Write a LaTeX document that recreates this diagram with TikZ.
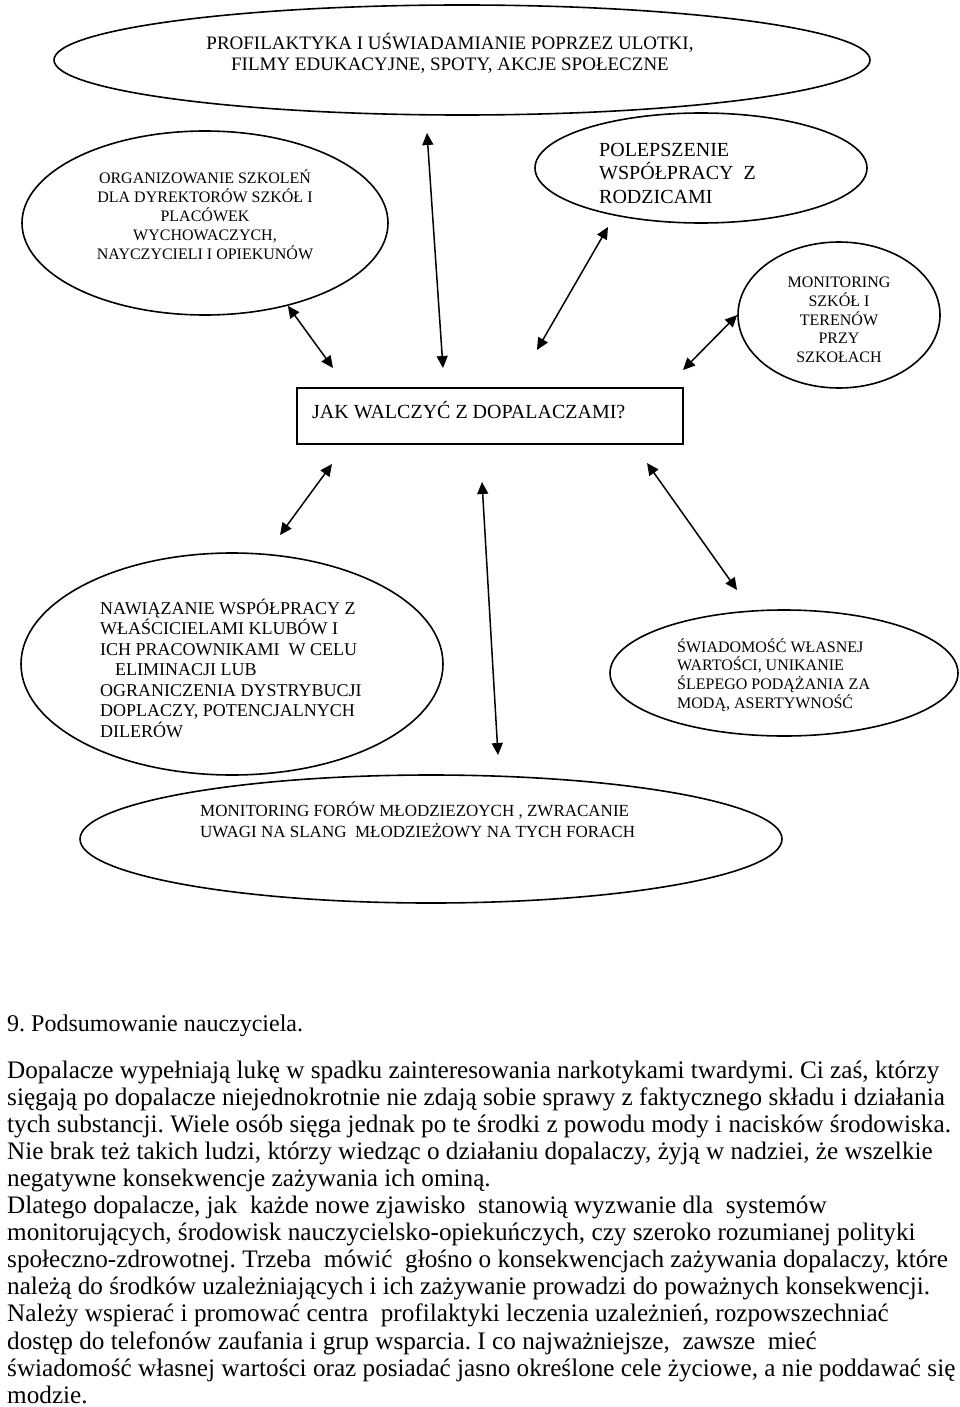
\documentclass[tikz,border=0pt]{standalone}
\usepackage{fontspec}
\setmainfont{Liberation Serif}
\usetikzlibrary{arrows.meta, shapes.geometric}
\frenchspacing

\tikzset{
  owal/.style={ellipse, draw, line width=1.6pt, inner sep=0pt},
  ramka/.style={rectangle, draw, line width=1.6pt, inner sep=0pt},
  napis/.style={align=left, inner sep=0pt, anchor=west},
  srodek/.style={align=center, inner sep=0pt},
  strzalka/.style={line width=1.5pt, {Triangle[length=12pt,width=11pt]}-{Triangle[length=12pt,width=11pt]}},
}

\begin{document}
\begin{tikzpicture}[x=1pt, y=-1pt]
  \useasboundingbox (0,0) rectangle (960,1407);

  % owale i ramka
  \node[owal, minimum width=816, minimum height=110] (ulotki) at (462,60) {};
  \node[owal, minimum width=366, minimum height=184] (szkolenia) at (205,223) {};
  \node[owal, minimum width=332, minimum height=110] (rodzice) at (701,168) {};
  \node[owal, minimum width=202, minimum height=146] (teren) at (839,315) {};
  \node[ramka, minimum width=386, minimum height=56] (pytanie) at (490,416) {};
  \node[owal, minimum width=422, minimum height=222] (kluby) at (232,664) {};
  \node[owal, minimum width=348, minimum height=126] (moda) at (784,673) {};
  \node[owal, minimum width=702, minimum height=128] (fora) at (431,839) {};

  % napisy
  \node[srodek, font=\fontsize{19}{21}\selectfont] (ulotki-t) at (450,53)
    {PROFILAKTYKA I UŚWIADAMIANIE POPRZEZ ULOTKI,\\FILMY EDUKACYJNE, SPOTY, AKCJE SPOŁECZNE};
  \node[srodek, font=\fontsize{16}{19}\selectfont] (szkolenia-t) at (205,215)
    {ORGANIZOWANIE SZKOLEŃ\\DLA DYREKTORÓW SZKÓŁ I\\PLACÓWEK\\WYCHOWACZYCH,\\NAYCZYCIELI I OPIEKUNÓW};
  \node[napis, font=\fontsize{20}{23.5}\selectfont] (rodzice-t) at (599,173)
    {POLEPSZENIE\\WSPÓŁPRACY\ \ Z\\RODZICAMI};
  \node[srodek, font=\fontsize{16}{18.75}\selectfont] (teren-t) at (839,320)
    {MONITORING\\SZKÓŁ I\\TERENÓW\\PRZY\\SZKOŁACH};
  \node[napis, font=\fontsize{20}{23}\selectfont] (pytanie-t) at (312,410)
    {JAK WALCZYĆ Z DOPALACZAMI?};
  \node[napis, font=\fontsize{18}{20.5}\selectfont] (kluby-t) at (100,668)
    {NAWIĄZANIE WSPÓŁPRACY Z\\WŁAŚCICIELAMI KLUBÓW I\\ICH PRACOWNIKAMI\ \ W CELU\\\hspace*{15pt}ELIMINACJI LUB\\OGRANICZENIA DYSTRYBUCJI\\DOPLACZY, POTENCJALNYCH\\DILERÓW};
  \node[napis, font=\fontsize{16}{18.7}\selectfont] (moda-t) at (677,675)
    {ŚWIADOMOŚĆ WŁASNEJ\\WARTOŚCI, UNIKANIE\\ŚLEPEGO PODĄŻANIA ZA\\MODĄ, ASERTYWNOŚĆ};
  \node[napis, font=\fontsize{17}{21}\selectfont] (fora-t) at (200,820)
    {MONITORING FORÓW MŁODZIEZOYCH , ZWRACANIE\\UWAGI NA SLANG\ \ MŁODZIEŻOWY NA TYCH FORACH};

  % strzalki
  \coordinate (k1) at (333,368);
  \coordinate (k2a) at (427,133);
  \coordinate (k2b) at (443,368);
  \coordinate (k3a) at (608,227);
  \coordinate (k3b) at (537,350);
  \coordinate (k4) at (683,370);
  \coordinate (k5a) at (332,464);
  \coordinate (k5b) at (280,535);
  \coordinate (k6a) at (482,482);
  \coordinate (k6b) at (498,755);
  \coordinate (k7a) at (647,463);
  \coordinate (k7b) at (737,590);
  \draw[strzalka] (szkolenia.-45) -- (k1);
  \draw[strzalka] (k2a) -- (k2b);
  \draw[strzalka] (k3a) -- (k3b);
  \draw[strzalka] (teren.west) -- (k4);
  \draw[strzalka] (k5a) -- (k5b);
  \draw[strzalka] (k6a) -- (k6b);
  \draw[strzalka] (k7a) -- (k7b);

  % podsumowanie
  \node[napis, font=\fontsize{24}{27}\selectfont] (tytul) at (7,1026)
    {9. Podsumowanie nauczyciela.};
  \node[napis, font=\fontsize{25.2}{27.1}\selectfont] (tekst) at (7,1232)
    {Dopalacze wypełniają lukę w spadku zainteresowania narkotykami twardymi. Ci zaś, którzy\\
     sięgają po dopalacze niejednokrotnie nie zdają sobie sprawy z faktycznego składu i działania\\
     tych substancji. Wiele osób sięga jednak po te środki z powodu mody i nacisków środowiska.\\
     Nie brak też takich ludzi, którzy wiedząc o działaniu dopalaczy, żyją w nadziei, że wszelkie\\
     negatywne konsekwencje zażywania ich ominą.\\
     Dlatego dopalacze, jak\ \ każde nowe zjawisko\ \ stanowią wyzwanie dla\ \ systemów\\
     monitorujących, środowisk nauczycielsko-opiekuńczych, czy szeroko rozumianej polityki\\
     społeczno-zdrowotnej. Trzeba\ \ mówić\ \ głośno o konsekwencjach zażywania dopalaczy, które\\
     należą do środków uzależniających i ich zażywanie prowadzi do poważnych konsekwencji.\\
     Należy wspierać i promować centra\ \ profilaktyki leczenia uzależnień, rozpowszechniać\\
     dostęp do telefonów zaufania i grup wsparcia. I co najważniejsze,\ \ zawsze\ \ mieć\\
     świadomość własnej wartości oraz posiadać jasno określone cele życiowe, a nie poddawać się\\
     modzie.};
\end{tikzpicture}
\end{document}
